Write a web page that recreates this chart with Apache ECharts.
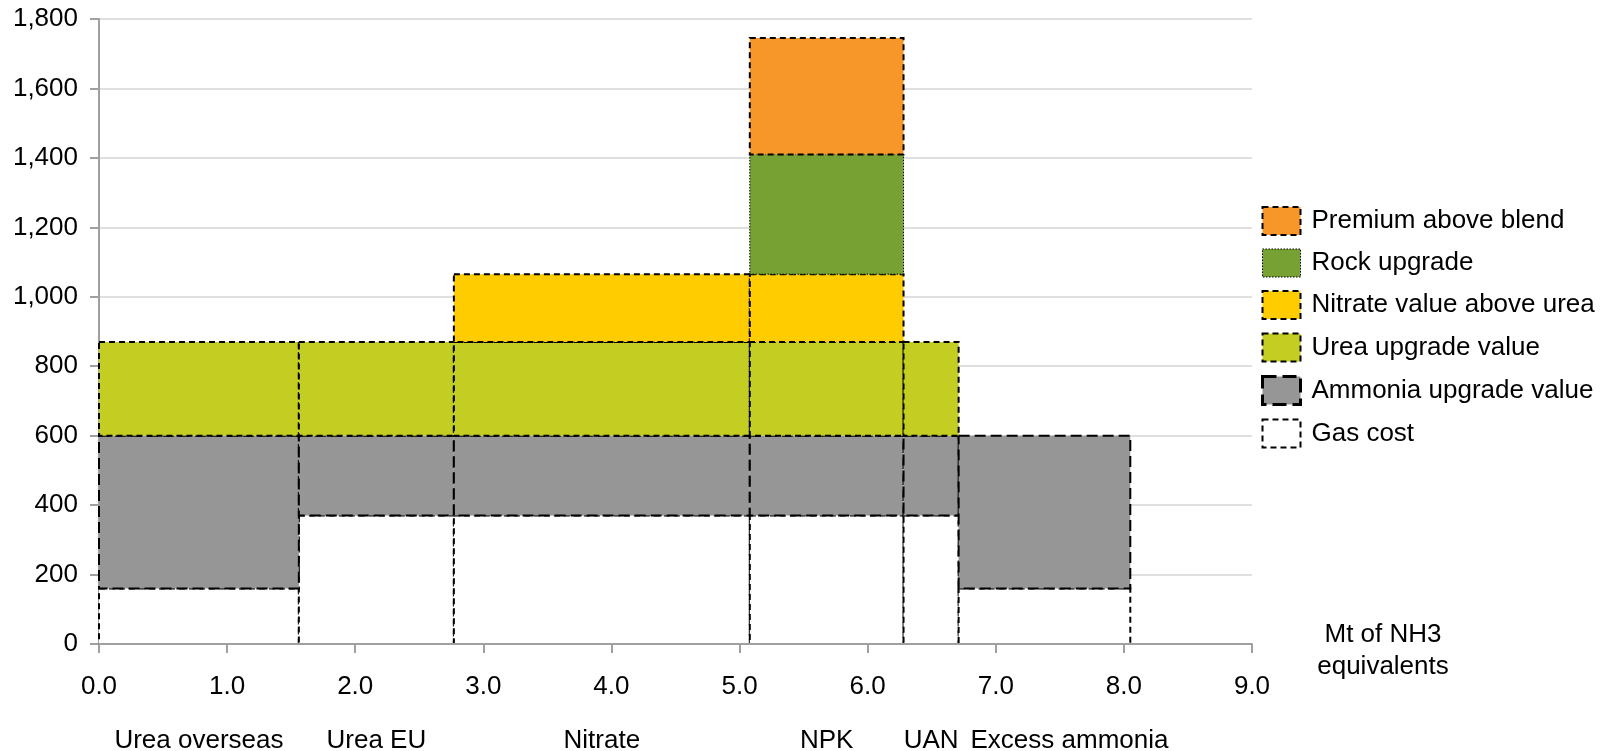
<!DOCTYPE html>
<html>
<head>
<meta charset="utf-8">
<script src="https://cdn.jsdelivr.net/npm/echarts@6/dist/echarts.min.js"></script>
<style>
html,body{margin:0;padding:0;background:#fff;}
#chart{width:1616px;height:751px;}
</style>
</head>
<body>
<div id="chart"></div>
<script>
// ---- Data ----
const categories = ['Urea overseas', 'Urea EU', 'Nitrate', 'NPK', 'UAN', 'Excess ammonia'];
// Mt of NH3 equivalents (bar widths)
const volumes = [1.56, 1.21, 2.31, 1.20, 0.43, 1.34];
// Segment heights, stacked bottom to top
const gasCost         = [160, 370, 370, 370, 370, 160];
const ammoniaUpgrade  = [440, 230, 230, 230, 230, 440];
const ureaUpgrade     = [270, 270, 270, 270, 270, 0];
const nitrateAboveUrea= [0, 0, 195, 195, 0, 0];
const rockUpgrade     = [0, 0, 0, 345, 0, 0];
const premiumAboveBlend = [0, 0, 0, 335, 0, 0];
const xTicks = [0, 1, 2, 3, 4, 5, 6, 7, 8, 9];
const yTicks = [0, 200, 400, 600, 800, 1000, 1200, 1400, 1600, 1800];
const xAxisTitle = 'Mt of NH3\nequivalents';

const FONT = '"Liberation Sans", Arial, sans-serif';
const FS = 26;

// stack definitions (bottom -> top)
const stackDefs = [
  {name:'Gas cost', values: gasCost, fill:'#ffffff', dash:[6,4], lw:2},
  {name:'Ammonia upgrade value', values: ammoniaUpgrade, fill:'#969696', dash:[11,5], lw:2},
  {name:'Urea upgrade value', values: ureaUpgrade, fill:'#C3CD22', dash:[6,4], lw:2},
  {name:'Nitrate value above urea', values: nitrateAboveUrea, fill:'#FFCC00', dash:[6,4], lw:2},
  {name:'Rock upgrade', values: rockUpgrade, fill:'#77A132', dash:[1.5,1.5], lw:1},
  {name:'Premium above blend', values: premiumAboveBlend, fill:'#F7972A', dash:[6,4], lw:2}
];

// x boundaries
const xStart = [];
let acc = 0;
volumes.forEach(v => { xStart.push(acc); acc += v; });

const baseline = categories.map(() => 0);
const series = stackDefs.map(def => {
  const data = [];
  categories.forEach((c, i) => {
    const y0 = baseline[i];
    const y1 = y0 + def.values[i];
    baseline[i] = y1;
    if (def.values[i] > 0) data.push([xStart[i], xStart[i] + volumes[i], y0, y1, c]);
  });
  return {
    type: 'custom',
    name: def.name,
    encode: {x: [0, 1], y: [2, 3]},
    itemStyle: {color: def.fill, borderColor: '#000', borderWidth: def.lw, borderType: def.dash},
    renderItem: function (params, api) {
      const p0 = api.coord([api.value(0), api.value(2)]);
      const p1 = api.coord([api.value(1), api.value(3)]);
      return {
        type: 'rect',
        shape: {x: p0[0], y: p1[1], width: p1[0] - p0[0], height: p0[1] - p1[1]},
        style: {fill: def.fill, stroke: '#000', lineWidth: def.lw, lineDash: def.dash}
      };
    },
    data: data,
    z: 2
  };
});

// category labels under the axis
const measureCanvas = document.createElement('canvas').getContext('2d');
measureCanvas.font = FS + 'px ' + FONT;
function labelCenters(api) {
  const centers = [];
  let prevRight = -Infinity;
  categories.forEach((c, i) => {
    const mid = xStart[i] + volumes[i] / 2;
    const px = api.coord([mid, 0])[0];
    const w = measureCanvas.measureText(c).width;
    let left = px - w / 2;
    if (left < prevRight + 12) left = prevRight + 12;
    centers.push(left + w / 2);
    prevRight = left + w;
  });
  return centers;
}
series.push({
  type: 'custom',
  name: 'catLabels',
  encode: {x: 0, y: 1},
  silent: true,
  renderItem: function (params, api) {
    const i = params.dataIndex;
    const centers = labelCenters(api);
    const base = api.coord([0, 0])[1];
    return {
      type: 'text',
      x: centers[i],
      y: base + 97,
      style: {text: categories[i], fill: '#000', font: FS + 'px ' + FONT, align: 'center', verticalAlign: 'middle'}
    };
  },
  data: categories.map((c, i) => [xStart[i] + volumes[i] / 2, 0]),
  z: 3
});

// x-axis title placed right of the axis end
series.push({
  type: 'custom',
  name: 'axisTitle',
  encode: {x: 0, y: 1},
  silent: true,
  renderItem: function (params, api) {
    const p = api.coord([xTicks[xTicks.length - 1], 0]);
    return {
      type: 'text',
      x: p[0] + 131,
      y: p[1] - 25,
      style: {text: xAxisTitle, fill: '#000', font: FS + 'px ' + FONT, lineHeight: 32, align: 'center', verticalAlign: 'top'}
    };
  },
  data: [[xTicks[xTicks.length - 1], 0]],
  z: 3
});

const legendOrder = ['Premium above blend', 'Rock upgrade', 'Nitrate value above urea', 'Urea upgrade value', 'Ammonia upgrade value', 'Gas cost'];
const legendData = legendOrder.map(n => {
  const d = stackDefs.find(s => s.name === n);
  return {
    name: n,
    icon: 'rect',
    itemStyle: {color: d.fill, borderColor: '#000', borderWidth: n === 'Ammonia upgrade value' ? 3 : (n === 'Rock upgrade' ? 1 : 2), borderType: n === 'Ammonia upgrade value' ? [14,6] : d.dash}
  };
});

const chart = echarts.init(document.getElementById('chart'));
chart.setOption({
  animation: false,
  backgroundColor: '#fff',
  textStyle: {fontFamily: FONT},
  grid: {left: 99, right: 364, top: 19, bottom: 107, containLabel: false},
  legend: {
    orient: 'vertical',
    left: 1256,
    top: 201,
    itemWidth: 38,
    itemHeight: 28,
    itemGap: 12.5,
    textStyle: {fontSize: FS, color: '#000', fontFamily: FONT, padding: [0, 0, 0, 6]},
    data: legendData
  },
  xAxis: {
    type: 'value',
    z: 5,
    min: xTicks[0],
    max: xTicks[xTicks.length - 1],
    interval: 1,
    axisLine: {show: true, lineStyle: {color: '#a0a0a0', width: 2}},
    axisTick: {show: true, length: 9, lineStyle: {color: '#a0a0a0', width: 2}},
    axisLabel: {fontSize: FS, color: '#000', fontFamily: FONT, margin: 30, formatter: v => v.toFixed(1)},
    splitLine: {show: false}
  },
  yAxis: {
    type: 'value',
    min: yTicks[0],
    max: yTicks[yTicks.length - 1],
    interval: 200,
    axisLine: {show: true, lineStyle: {color: '#a0a0a0', width: 2}},
    axisTick: {show: true, length: 9, lineStyle: {color: '#a0a0a0', width: 2}},
    axisLabel: {fontSize: FS, color: '#000', fontFamily: FONT, margin: 21, formatter: v => v.toLocaleString('en-US')},
    splitLine: {show: true, lineStyle: {color: '#d4d4d4', width: 1.5}}
  },
  series: series
});
</script>
</body>
</html>
